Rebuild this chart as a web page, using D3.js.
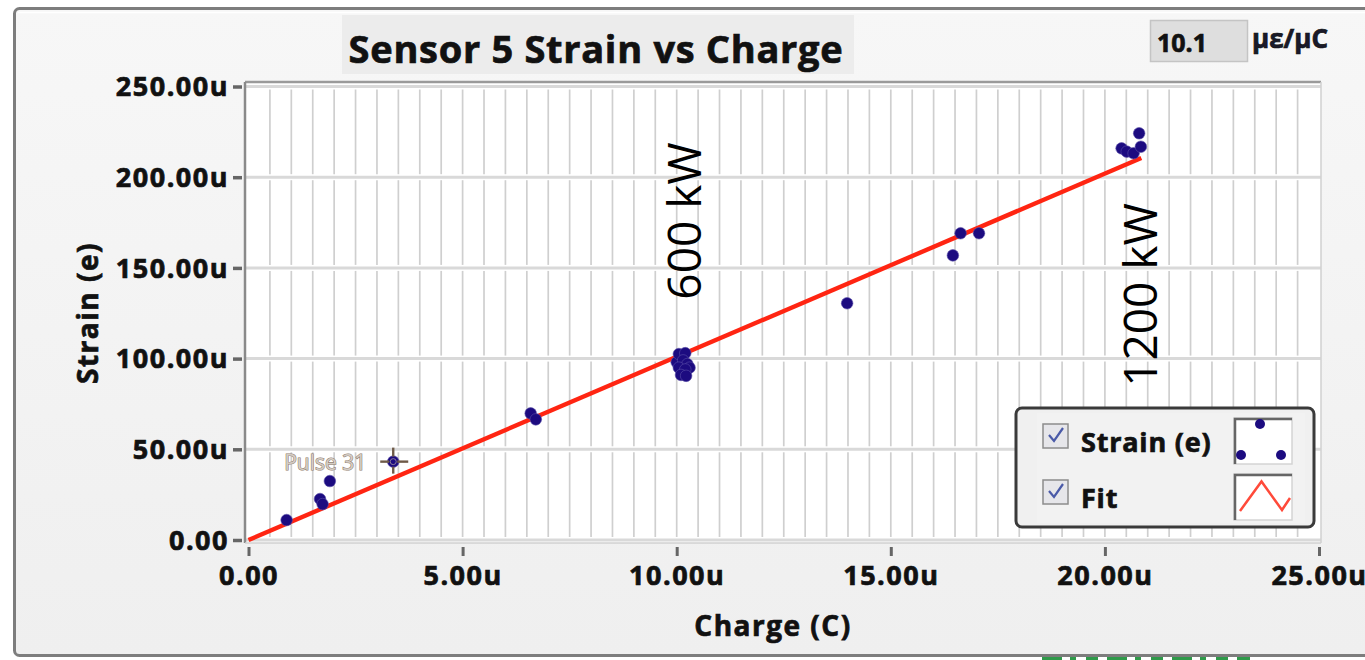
<!DOCTYPE html>
<html>
<head>
<meta charset="utf-8">
<script src="https://cdn.jsdelivr.net/npm/d3@7"></script>
<style>
  html, body { margin: 0; padding: 0; background: #ffffff; }
  svg { display: block; }
  text { font-family: "Open Sans", "Noto Sans", sans-serif; }
  .heavy { font-weight: 700; fill: #111; stroke: #111; stroke-width: 0.7px; }
</style>
</head>
<body>
<svg id="chart" width="1365" height="660"></svg>
<script>
// Measured pulses: charge (µC) and strain (µε)
const chargeU = [0.89, 1.67, 1.73, 1.90, 3.38, 6.59, 6.71,
  10.00, 10.05, 10.20, 10.15, 10.25, 10.30, 10.05, 10.20, 10.10, 10.22,
  13.98, 16.45, 16.63, 17.06,
  20.39, 20.51, 20.67, 20.84, 20.80];
const strainU = [11.0, 22.6, 19.8, 32.5, 43.2, 69.8, 66.5,
  98.0, 102.5, 103.0, 99.0, 97.0, 95.0, 95.0, 94.0, 91.0, 90.5,
  130.5, 156.9, 169.1, 169.1,
  215.9, 214.1, 213.2, 216.8, 224.2];

// Linear fit through the origin (µε/µC) over the measured charge span
const fitSlope = 10.1;
const fitCharge = [0, 20.85];

// Highlighted pulse
const cursorName = "Pulse 31";
const cursorIndex = 4;

// Axis ticks
const xTickValues = [0, 5, 10, 15, 20, 25];
const xTickLabels = ["0.00", "5.00u", "10.00u", "15.00u", "20.00u", "25.00u"];
const yTickValues = [0, 50, 100, 150, 200, 250];
const yTickLabels = ["0.00", "50.00u", "100.00u", "150.00u", "200.00u", "250.00u"];

// Power annotations, anchored in data coordinates
const powerLabels = ["600 kW", "1200 kW"];
const powerCharge = [10.57, 21.22];
const powerStrain = [175.9, 135.1];

const legendNames = ["Strain (e)", "Fit"];

const svg = d3.select("#chart");

// ---- outer panel ----
const defs = svg.append("defs");
const grad = defs.append("linearGradient").attr("id", "panelFill")
  .attr("x1", 0).attr("y1", 0).attr("x2", 0).attr("y2", 1);
grad.append("stop").attr("offset", "0%").attr("stop-color", "#f7f7f7");
grad.append("stop").attr("offset", "100%").attr("stop-color", "#efefef");

svg.append("rect").attr("x", 14.5).attr("y", 8.5).attr("width", 1400).attr("height", 647)
  .attr("rx", 5).attr("fill", "url(#panelFill)").attr("stroke", "#7d7d7d").attr("stroke-width", 3);
svg.append("line").attr("x1", 18).attr("x2", 1365).attr("y1", 12.5).attr("y2", 12.5)
  .attr("stroke", "#ffffff").attr("stroke-width", 1.5);

// partial widget below the panel
svg.append("line").attr("x1", 1042).attr("x2", 1250).attr("y1", 658.5).attr("y2", 658.5)
  .attr("stroke", "#2f9a4a").attr("stroke-width", 3).attr("stroke-dasharray", "20 8 6 10 12 9");

// ---- title ----
svg.append("rect").attr("x", 342).attr("y", 15).attr("width", 512).attr("height", 59)
  .attr("fill", "#ececec");
svg.append("text").attr("class", "heavy").attr("x", 596).attr("y", 63).attr("text-anchor", "middle")
  .attr("font-size", 38).attr("letter-spacing", 0.7)
  .text("Sensor 5 Strain vs Charge");

// ---- slope indicator ----
svg.append("rect").attr("x", 1150.5).attr("y", 20.5).attr("width", 97).attr("height", 41)
  .attr("fill", "#dedede").attr("stroke", "#c4c4c4").attr("stroke-width", 1.5);
svg.append("text").attr("class", "heavy").attr("x", 1157).attr("y", 52).attr("font-size", 25)
  .text(fitSlope.toFixed(1));
svg.append("text").attr("class", "heavy").attr("x", 1252).attr("y", 48).attr("font-size", 26)
  .style("fill", "#1a1a2a").text("με/μC");

// ---- plot area ----
const x = d3.scaleLinear().domain([0, 25]).range([248.5, 1319]);
const y = d3.scaleLinear().domain([0, 250]).range([540, 86.5]);
const plotL = 245, plotR = 1321, plotT = 82, plotB = 543;

svg.append("rect").attr("x", plotL).attr("y", plotT).attr("width", plotR - plotL).attr("height", plotB - plotT)
  .attr("fill", "#ffffff");

const grid = svg.append("g");
// horizontal major grid every 50
grid.selectAll("line.h").data(d3.range(0, 251, 50)).join("line")
  .attr("x1", plotL).attr("x2", plotR)
  .attr("y1", d => y(d)).attr("y2", d => y(d))
  .attr("stroke", "#d9d9d9").attr("stroke-width", 3);
// vertical minor grid every 0.5, broken at each horizontal line
const vx = d3.range(0.5, 25, 0.5);
const bands = d3.range(0, 250, 50);
vx.forEach(v => {
  grid.selectAll(null).data(bands).join("line")
    .attr("x1", x(v)).attr("x2", x(v))
    .attr("y1", d => y(d + 50) + 3).attr("y2", d => y(d) - 3)
    .attr("stroke", "#cfcfcf").attr("stroke-width", 1.7);
});

// plot frame
svg.append("line").attr("x1", plotL).attr("x2", plotR).attr("y1", plotT).attr("y2", plotT)
  .attr("stroke", "#9a9a9a").attr("stroke-width", 2.5);
svg.append("line").attr("x1", plotL).attr("x2", plotL).attr("y1", plotT).attr("y2", plotB)
  .attr("stroke", "#8a8a8a").attr("stroke-width", 2.5);
svg.append("line").attr("x1", plotR).attr("x2", plotR).attr("y1", plotT).attr("y2", plotB)
  .attr("stroke", "#d0d0d0").attr("stroke-width", 1.5);
svg.append("line").attr("x1", plotL).attr("x2", plotR).attr("y1", plotB).attr("y2", plotB)
  .attr("stroke", "#d0d0d0").attr("stroke-width", 1.5);

// ---- axes ----
const yAxis = d3.axisLeft(y).tickValues(yTickValues)
  .tickFormat((d, i) => yTickLabels[i]).tickSize(9).tickPadding(4);
const gy = svg.append("g").attr("transform", `translate(${plotL - 3},0)`).call(yAxis);
gy.select(".domain").remove();
gy.selectAll(".tick line").attr("stroke", "#666").attr("stroke-width", 3.5);
gy.selectAll(".tick text").attr("class", "heavy").attr("font-size", 27).attr("letter-spacing", 1.5)
  .attr("font-family", "'Open Sans', sans-serif").attr("dy", "0.34em");

const xAxis = d3.axisBottom(x).tickValues(xTickValues)
  .tickFormat((d, i) => xTickLabels[i]).tickSize(9).tickPadding(10);
const gx = svg.append("g").attr("transform", `translate(0,${plotB + 4})`).call(xAxis);
gx.select(".domain").remove();
gx.selectAll(".tick line").attr("stroke", "#666").attr("stroke-width", 3);
gx.selectAll(".tick text").attr("class", "heavy").attr("font-size", 27).attr("letter-spacing", 1.5)
  .attr("font-family", "'Open Sans', sans-serif");

// axis titles
svg.append("text").attr("class", "heavy").attr("x", 773).attr("y", 636).attr("text-anchor", "middle")
  .attr("font-size", 28).attr("letter-spacing", 1.5).text("Charge (C)");
svg.append("text").attr("class", "heavy").attr("transform", "translate(98,313) rotate(-90)")
  .attr("text-anchor", "middle").attr("font-size", 28).attr("letter-spacing", 1.5).text("Strain (e)");

// ---- fit line ----
const line = d3.line().x(d => x(d)).y(d => y(d * fitSlope));
svg.append("path").datum(fitCharge).attr("d", line)
  .attr("fill", "none").attr("stroke", "#ff2512").attr("stroke-width", 4.4).attr("stroke-linecap", "butt");

// ---- power annotations ----
powerLabels.forEach((t, i) => {
  svg.append("text")
    .attr("transform", `translate(${x(powerCharge[i])},${y(powerStrain[i])}) rotate(-90)`)
    .attr("text-anchor", "middle")
    .attr("font-family", "'Liberation Sans', Arial, sans-serif")
    .attr("font-size", 46).attr("fill", "#000").text(t);
});

// ---- scatter ----
const pts = chargeU.map((c, i) => ({ c, s: strainU[i] }));
svg.append("g").selectAll("circle").data(pts).join("circle")
  .attr("cx", d => x(d.c)).attr("cy", d => y(d.s)).attr("r", 5.8)
  .attr("fill", "#1c0b80").attr("stroke", "#5a4fa8").attr("stroke-width", 0.6);

// ---- cursor on highlighted pulse ----
const cp = pts[cursorIndex];
const cx = x(cp.c), cy = y(cp.s);
const cur = svg.append("g").attr("stroke", "#6e5a48").attr("stroke-width", 2.4);
cur.append("line").attr("x1", cx - 13).attr("x2", cx - 4).attr("y1", cy).attr("y2", cy);
cur.append("line").attr("x1", cx + 4).attr("x2", cx + 15).attr("y1", cy).attr("y2", cy);
cur.append("line").attr("x1", cx).attr("x2", cx).attr("y1", cy - 14).attr("y2", cy - 5);
cur.append("line").attr("x1", cx).attr("x2", cx).attr("y1", cy + 5).attr("y2", cy + 12);
svg.append("circle").attr("cx", cx).attr("cy", cy).attr("r", 3).attr("fill", "none")
  .attr("stroke", "#8a7a9a").attr("stroke-width", 1);
svg.append("text").attr("x", cx - 27).attr("y", cy + 8).attr("text-anchor", "end")
  .attr("font-size", 21).attr("fill", "#d4ccc4").attr("stroke", "#8f7c6c").attr("stroke-width", 1.1)
  .attr("paint-order", "stroke").text(cursorName);

// ---- legend ----
const lg = svg.append("g");
lg.append("rect").attr("x", 1016).attr("y", 408).attr("width", 298).attr("height", 119)
  .attr("rx", 6).attr("fill", "#f0f0f0").attr("stroke", "#3a3a3a").attr("stroke-width", 3);
lg.append("rect").attr("x", 1037).attr("y", 413).attr("width", 268).attr("height", 110)
  .attr("fill", "#f2f2f2");
legendNames.forEach((name, i) => {
  const ty = 435 + i * 56;
  // checkbox
  lg.append("rect").attr("x", 1043).attr("y", ty - 11).attr("width", 25).attr("height", 24)
    .attr("fill", "#e6e6ea").attr("stroke", "#8c8c8c").attr("stroke-width", 1.5);
  lg.append("path").attr("d", `M${1049},${ty} l5,6 l9,-13`).attr("fill", "none")
    .attr("stroke", "#4a5aa8").attr("stroke-width", 2.2);
  lg.append("text").attr("class", "heavy").attr("x", 1081).attr("y", ty + 17).attr("font-size", 27)
    .attr("letter-spacing", 0.8).text(name);
  // swatch
  const sy = 418 + i * 56;
  lg.append("rect").attr("x", 1234).attr("y", sy).attr("width", 58).attr("height", 46)
    .attr("fill", "#ffffff").attr("stroke", "#d4d4d4").attr("stroke-width", 1.5);
  lg.append("path").attr("d", `M1235,${sy + 46} V${sy + 1} H1292`).attr("fill", "none")
    .attr("stroke", "#666").attr("stroke-width", 2.5);
});
// swatch marks
const sw = lg.append("g");
sw.append("clipPath").attr("id", "swclip").append("rect")
  .attr("x", 1236).attr("y", 419).attr("width", 56).attr("height", 45);
const swDots = sw.append("g").attr("clip-path", "url(#swclip)");
[[1260, 424], [1241, 455], [1281, 455]].forEach(p => {
  swDots.append("circle").attr("cx", p[0]).attr("cy", p[1]).attr("r", 5).attr("fill", "#1c0b80");
});
sw.append("path").attr("d", "M1240,511 L1261.5,481.5 L1282,510 L1290,498")
  .attr("fill", "none").attr("stroke", "#ff4a3a").attr("stroke-width", 2.5);
</script>
</body>
</html>
